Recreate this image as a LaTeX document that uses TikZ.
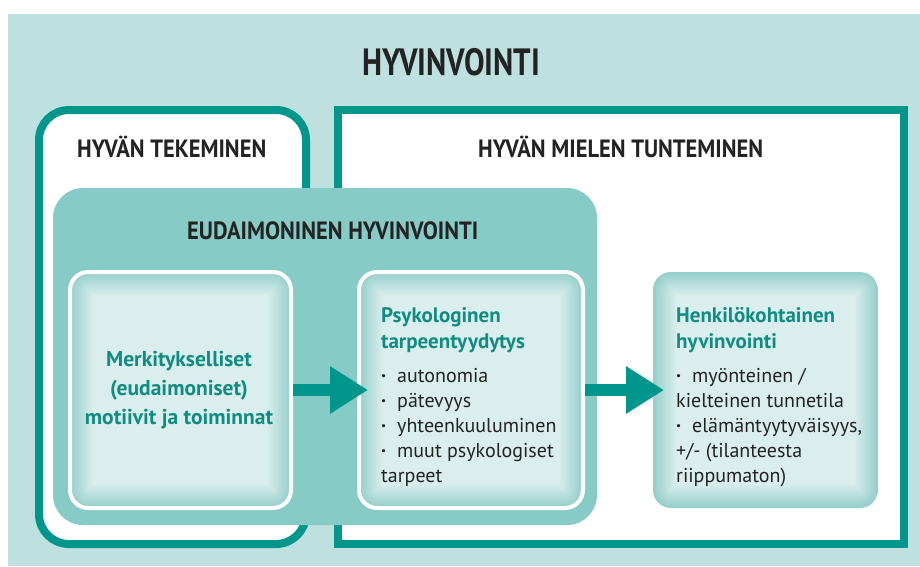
\documentclass[tikz,border=0pt]{standalone}
\usepackage{fontspec}
\setmainfont{PT Sans}
\newfontfamily\capsfont{PT Sans}[FakeStretch=0.9]
\newfontfamily\titlefont{PT Sans}[FakeStretch=0.81]
\usetikzlibrary{arrows.meta}
\definecolor{bgc}{RGB}{190,224,223}
\definecolor{eudc}{RGB}{134,203,198}
\definecolor{tealb}{RGB}{0,150,140}
\definecolor{tealt}{RGB}{16,140,130}
\definecolor{innerC}{RGB}{218,238,237}
\definecolor{innerE}{RGB}{150,207,203}
\definecolor{darkt}{RGB}{35,35,35}
\tikzset{
  frame/.style={draw=tealb, line width=8pt, fill=white, inner sep=0pt, outer sep=0pt},
  capsl/.style={inner sep=0pt, anchor=base west, text=darkt, font=\capsfont\bfseries\fontsize{25}{25}\selectfont},
  glow/.style={path picture={
    \foreach \i in {0,...,18}{
      \pgfmathsetmacro\d{\i*1.3}
      \pgfmathsetmacro\p{\i*100/18}
      \pgfmathsetmacro\r{max(18-\d,1)}
      \fill[innerC!\p!innerE, rounded corners=\r pt]
        ([xshift=\d pt,yshift=-\d pt]path picture bounding box.north west)
        rectangle ([xshift=-\d pt,yshift=\d pt]path picture bounding box.south east);
    }}},
  innerbox/.style={rounded corners=18pt, glow, inner sep=0pt, outer sep=0pt, minimum height=236pt},
  bigarrow/.style={draw=tealb, line width=12pt, -{Triangle[length=38pt,width=45pt]}, shorten <=2pt},
  btext/.style={inner sep=0pt, text=darkt},
}
\newcommand\bul{\makebox[16pt][l]{\textbf{·}}}
\begin{document}
\begin{tikzpicture}[x=1pt,y=-1pt]
\useasboundingbox (0,0) rectangle (920,566);
\fill[bgc] (8,14) rectangle (920,566);
\node[inner sep=0pt, anchor=base, text=darkt, font=\titlefont\bfseries\fontsize{38}{38}\selectfont] (title) at (451,75) {HYVINVOINTI};
% outer frames
\node[frame, rounded corners=30pt, minimum width=267pt, minimum height=434pt] (left) at (172.5,327) {};
\node[frame, minimum width=566pt, minimum height=434pt] (right) at (621,327) {};
\node[capsl] (lt) at (77,157) {HYVÄN TEKEMINEN};
\node[capsl] (rt) at (478,157) {HYVÄN MIELEN TUNTEMINEN};
% eudaimonic box
\node[fill=eudc, rounded corners=30pt, inner sep=0pt, outer sep=0pt, minimum width=544pt, minimum height=337pt] (eud) at (325,356.5) {};
\node[capsl] (et) at (187,239) {EUDAIMONINEN HYVINVOINTI};
% inner boxes
\node[innerbox, draw=white, line width=4pt, minimum width=221pt] (b1) at (180.5,390) {};
\node[innerbox, draw=white, line width=4pt, minimum width=224pt] (b2) at (471,390) {};
\node[innerbox, minimum width=225pt] (b3) at (765.5,390) {};
% arrows
\draw[bigarrow, shorten >=-9pt] (b1.east) -- (b2.west);
\draw[bigarrow, shorten >=-11pt] (b2.east) -- (b3.west);
% texts
\node[btext, anchor=base] (t1) at (179,366) {\parbox[t]{220pt}{\leavevmode\centering\fontsize{21.5}{29}\selectfont\bfseries\color{tealt}Merkitykselliset\\(eudaimoniset)\\motiivit ja toiminnat}};
\node[btext, anchor=base west] (t2) at (381,322) {\parbox[t]{200pt}{\raggedright\fontsize{20}{25}\selectfont\leavevmode
{\fontsize{21}{25}\selectfont\bfseries\color{tealt}Psykologinen\\[1pt]tarpeentyydytys}\\[9pt]
\bul autonomia\\
\bul pätevyys\\
\bul yhteenkuuluminen\\
\bul muut psykologiset\\
tarpeet}};
\node[btext, anchor=base west] (t3) at (676,322) {\parbox[t]{200pt}{\raggedright\fontsize{20}{25}\selectfont\leavevmode
{\fontsize{21}{25}\selectfont\bfseries\color{tealt}Henkilökohtainen\\[1pt]hyvinvointi}\\[9pt]
\bul myönteinen /\\
kielteinen tunnetila\\
\bul elämäntyytyväisyys,\\
+/- (tilanteesta\\
riippumaton)}};
\end{tikzpicture}
\end{document}
